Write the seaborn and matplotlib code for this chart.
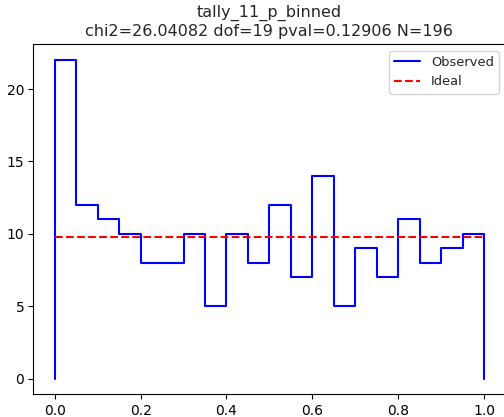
import numpy as np
import pandas as pd
import matplotlib
matplotlib.use("Agg")
import matplotlib.pyplot as plt
import seaborn as sns

# Histogram of tally values in 20 equal-width bins on [0, 1]
bin_edges = np.linspace(0.0, 1.0, 21)
counts = [22, 12, 11, 10, 8, 8, 10, 5, 10, 8, 12, 7, 14, 5, 9, 7, 11, 8, 9, 10]
n_total = sum(counts)
ideal = n_total / len(counts)
title = "tally_11_p_binned\nchi2=26.04082 dof=19 pval=0.12906 N=196"

sns.set_style("white")
plt.rcParams["font.family"] = ["DejaVu Sans"]

# Step outline: start at zero on the left edge, close to zero on the right edge
step_x = [bin_edges[0]] + list(bin_edges) + [bin_edges[-1]]
step_y = [0] + counts + [counts[-1], 0]
obs = pd.DataFrame({"x": step_x, "y": step_y})
ideal_df = pd.DataFrame({"x": [bin_edges[0], bin_edges[-1]], "y": [ideal, ideal]})

fig, ax = plt.subplots(figsize=(5.04, 4.17), dpi=100)
fig.subplots_adjust(left=0.066, right=1.003, top=0.894, bottom=0.054)

sns.lineplot(data=obs, x="x", y="y", ax=ax, color="blue", drawstyle="steps-post",
             sort=False, estimator=None, label="Observed", linewidth=1.5)
sns.lineplot(data=ideal_df, x="x", y="y", ax=ax, color="red", linestyle="--",
             sort=False, estimator=None, label="Ideal", linewidth=1.5)

ax.set_xlabel("")
ax.set_ylabel("")
ax.set_title(title, fontsize=11.5)
ax.set_xticks([0.0, 0.2, 0.4, 0.6, 0.8, 1.0])
ax.set_yticks([0, 5, 10, 15, 20])
ax.tick_params(axis="both", which="both", direction="out", length=3.5, width=0.8,
               labelsize=10, pad=3, bottom=True, left=True, colors="black")
for s in ax.spines.values():
    s.set_color("black")
    s.set_linewidth(0.8)
ax.legend(loc="upper right", frameon=True, fontsize=9.4)

fig.savefig("out.png", dpi=100)
